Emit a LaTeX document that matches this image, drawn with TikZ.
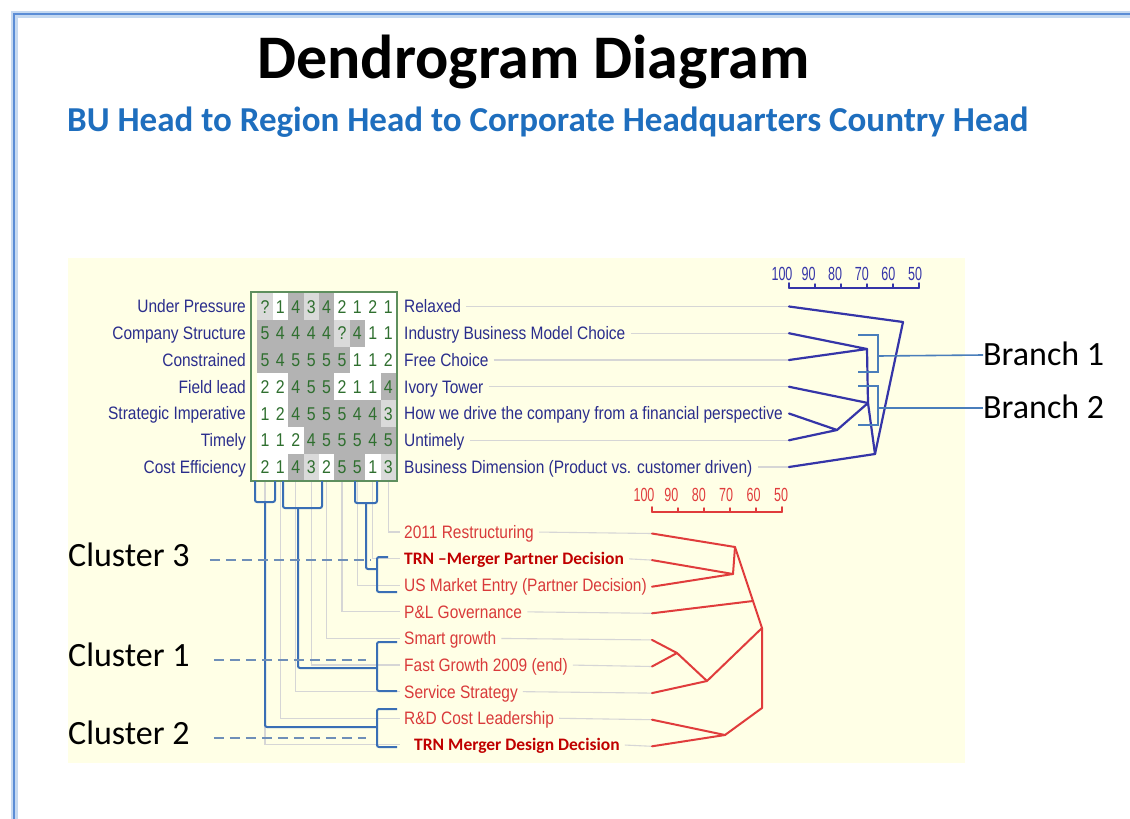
\documentclass[tikz,border=0pt]{standalone}
\usepackage{fontspec}
\setmainfont{Carlito}
\newfontfamily\narrowsans[FakeStretch=0.86]{Liberation Sans}
\newfontfamily\scalesans[FakeStretch=0.66]{Liberation Sans}
\definecolor{labblue}{HTML}{2A2D8C}
\definecolor{digitgreen}{HTML}{2F6F2F}
\definecolor{shade0}{HTML}{FFFFFF}
\definecolor{shade1}{HTML}{DADADA}
\definecolor{shade2}{HTML}{B3B3B3}
\definecolor{gridgreen}{HTML}{5E8F5E}
\definecolor{dendblue}{HTML}{3535A8}
\definecolor{branchblue}{HTML}{4A7EBB}
\definecolor{clusblue}{HTML}{3A6FB5}
\definecolor{dashblue}{HTML}{6F8FB8}
\definecolor{dendred}{HTML}{E03C3C}
\definecolor{redtext}{HTML}{D93A3A}
\definecolor{darkred}{HTML}{C00000}
\definecolor{lgray}{HTML}{D6D6D6}
\definecolor{panel}{HTML}{FFFFE6}
\definecolor{subblue}{HTML}{1E6EBE}
\definecolor{framelight}{HTML}{C5D9F1}
\definecolor{framedark}{HTML}{5B8DD6}
\begin{document}
\begin{tikzpicture}[x=1pt,y=-1pt,
  rowlab/.style={anchor=east,inner sep=0pt,font=\narrowsans\fontsize{18}{20}\selectfont,text=labblue,text height=12.9pt,text depth=0pt},
  rightlab/.style={rowlab,anchor=west},
  redlab/.style={anchor=west,inner sep=0pt,font=\narrowsans\fontsize{18}{20}\selectfont,text=redtext,text height=12.9pt,text depth=0pt},
  redbold/.style={anchor=west,inner sep=0pt,font=\bfseries\fontsize{17.5}{20}\selectfont,text=darkred,text height=11.3pt,text depth=0pt},
  digit/.style={inner sep=0pt,font=\narrowsans\fontsize{18.5}{20}\selectfont,text=digitgreen,text height=13.2pt,text depth=0pt},
  scalelab/.style={inner sep=0pt,font=\scalesans\fontsize{19}{20}\selectfont,text height=13.6pt,text depth=0pt},
  bigcal/.style={anchor=west,inner sep=0pt,font=\fontsize{34}{40}\selectfont,text=black,text height=21.9pt,text depth=0pt},
  dendb/.style={draw=dendblue,line width=2.2pt,line join=round,line cap=round},
  dendr/.style={draw=dendred,line width=2pt,line join=round,line cap=round},
  leafgray/.style={draw=lgray,line width=1.3pt},
  branch/.style={draw=branchblue,line width=1.6pt},
  clus/.style={draw=clusblue,line width=2pt,rounded corners=2pt},
  dashc/.style={draw=dashblue,line width=1.3pt,dash pattern=on 10pt off 6pt}
]
\useasboundingbox (0,0) rectangle (1130,819);
\fill[white] (0,0) rectangle (1130,819);
% slide frame
\draw[line width=7pt,draw=framelight] (14,830) -- (14,14) -- (1140,14);
\draw[line width=2.5pt,draw=framedark] (14,830) -- (14,14) -- (1140,14);
% titles
\node[anchor=base west,inner sep=0pt,font=\bfseries\fontsize{62}{70}\selectfont] (title) at (257,78) {Dendrogram Diagram};
\node[anchor=base west,inner sep=0pt,font=\bfseries\fontsize{35}{40}\selectfont,text=subblue] (subtitle) at (67,131) {BU Head to Region Head to Corporate Headquarters Country Head};
% panel
\fill[panel] (68,258) rectangle (965,763);
% bottom label anchors
\foreach \k in {1,...,9} {
  \pgfmathsetmacro\yy{532+26.6*(\k-1)}
  \coordinate (BS\k) at (400,\yy);
  \coordinate (RB\k) at (652,\yy+1.5);
}
% grey column lines
\foreach \i in {1,...,9} {
  \pgfmathsetmacro\cxx{265+15.4*(\i-1)}
  \pgfmathtruncatemacro\k{10-\i}
  \coordinate (colb\i) at (\cxx,481);
  \draw[leafgray] (colb\i) |- (BS\k);
}
% grid cells
\foreach \row [count=\j] in {{1,0,2,1,2,0,0,0,0},{2,2,2,2,2,1,2,0,0},{2,2,2,2,2,2,0,0,0},{0,0,2,2,2,0,0,0,2},{0,0,2,2,2,2,2,2,1},{0,0,0,2,2,2,2,2,2},{0,0,2,1,0,2,2,0,1}} {
  \foreach \s [count=\i] in \row {
    \pgfmathsetmacro\xa{257.3+15.4*(\i-1)}
    \pgfmathsetmacro\ya{293+26.75*(\j-1)}
    \fill[shade\s] (\xa,\ya) rectangle ++(15.45,26.8);
  }
}
\node[draw=gridgreen,line width=1.5pt,minimum width=146pt,minimum height=189pt,inner sep=0pt] (grid) at (324,386.5) {};
\foreach \row [count=\j] in {{?,1,4,3,4,2,1,2,1},{5,4,4,4,4,?,4,1,1},{5,4,5,5,5,5,1,1,2},{2,2,4,5,5,2,1,1,4},{1,2,4,5,5,5,4,4,3},{1,1,2,4,5,5,5,4,5},{2,1,4,3,2,5,5,1,3}} {
  \foreach \d [count=\i] in \row {
    \node[digit] (d-\j-\i) at ({265+15.4*(\i-1)},{306.5+26.75*(\j-1)}) {\d};
  }
}
% row labels
\foreach \t [count=\j] in {Under Pressure,Company Structure,Constrained,Field lead,Strategic Imperative,Timely,Cost Efficiency} {
  \node[rowlab] (L\j) at (246,{306.5+26.75*(\j-1)}) {\t};
}
\foreach \t [count=\j] in {Relaxed,Industry Business Model Choice,Free Choice,Ivory Tower,How we drive the company from a financial perspective,Untimely,Business Dimension (Product vs. customer driven)} {
  \node[rightlab] (R\j) at (404,{306.5+26.75*(\j-1)}) {\t};
  \coordinate (RL\j) at (789,{306.5+26.75*(\j-1)});
  \draw[leafgray,line width=1.1pt,shorten <=5pt] (R\j.east) -- (RL\j);
}
% bottom labels
\node[redlab] (BL1) at (404,532) {2011 Restructuring};
\node[redbold] (BL2) at (404,558.6) {TRN –Merger Partner Decision};
\node[redlab] (BL3) at (404,585.2) {US Market Entry (Partner Decision)};
\node[redlab] (BL4) at (404,611.8) {P\&L Governance};
\node[redlab] (BL5) at (404,638.4) {Smart growth};
\node[redlab] (BL6) at (404,665) {Fast Growth 2009 (end)};
\node[redlab] (BL7) at (404,691.6) {Service Strategy};
\node[redlab] (BL8) at (404,718.2) {R\&D Cost Leadership};
\node[redbold] (BL9) at (414,744.8) {TRN Merger Design Decision};
\foreach \k in {1,...,9} {
  \draw[leafgray,line width=1.1pt,shorten <=5pt] (BL\k.east) -- (RB\k);
}
% right scale
\draw[dendb,line width=1.6pt] (789,283) -- (789,288) -- (919,288) -- (919,283);
\foreach \v [count=\n] in {100,90,80,70,60,50} {
  \pgfmathsetmacro\tx{789+26*(\n-1)}
  \draw[dendb,line width=1.4pt] (\tx,288) -- (\tx,284);
  \node[scalelab,text=dendblue] (bs\n) at ({782+26.6*(\n-1)},274) {\v};
}
% right dendrogram
\coordinate (b1) at (903,322);
\coordinate (b23) at (867,349);
\coordinate (b456) at (868,403);
\coordinate (b56) at (837,430);
\coordinate (broot) at (875,454);
\draw[dendb] (RL1) -- (b1) -- (broot);
\draw[dendb] (RL2) -- (b23) -- (RL3);
\draw[dendb] (b23) -- (b456) -- (broot);
\draw[dendb] (RL4) -- (b456);
\draw[dendb] (RL5) -- (b56) -- (RL6);
\draw[dendb] (b56) -- (b456);
\draw[dendb] (RL7) -- (broot);
% branches
\node[bigcal] (Br1) at (983,355) {Branch 1};
\node[bigcal] (Br2) at (983,408) {Branch 2};
\draw[branch] (858,335) -- (878,335) -- (878,372) -- (858,372);
\draw[branch] (878,356) -- (Br1.west);
\draw[branch] (858,386) -- (878,386) -- (878,425) -- (858,425);
\draw[branch] (878,408) -- (Br2.west);
% bottom scale
\draw[dendr,line width=1.6pt] (652,507) -- (652,512) -- (782,512) -- (782,507);
\foreach \v [count=\n] in {100,90,80,70,60,50} {
  \pgfmathsetmacro\tx{652+26*(\n-1)}
  \draw[dendr,line width=1.4pt] (\tx,512) -- (\tx,508);
  \node[scalelab,text=dendred] (rs\n) at ({644+27.4*(\n-1)},495) {\v};
}
% bottom dendrogram
\coordinate (ra) at (735,547);
\coordinate (rb) at (733,574);
\coordinate (rc) at (753,601);
\coordinate (rd) at (762,628);
\coordinate (re) at (677,653);
\coordinate (rf) at (707,681);
\coordinate (rg) at (725,735);
\coordinate (rh) at (762,708);
\draw[dendr] (RB1) -- (ra) -- (rd) -- (rh) -- (rg);
\draw[dendr] (RB2) -- (rb) -- (RB3);
\draw[dendr] (rb) -- (ra);
\draw[dendr] (RB4) -- (rc);
\draw[dendr] (RB5) -- (re) -- (RB6);
\draw[dendr] (re) -- (rf) -- (rd);
\draw[dendr] (RB7) -- (rf);
\draw[dendr] (RB8) -- (rg) -- (RB9);
% cluster brackets
\draw[clus] (255,481) -- (255,502) -- (275,502) -- (275,481);
\draw[clus] (265,502) |- (377,727);
\draw[clus] (397,709) -- (377,709) -- (377,747) -- (397,747);
\draw[clus] (283,481) -- (283,508) -- (322,508) -- (322,481);
\draw[clus] (298,508) |- (377,668);
\draw[clus] (397,642) -- (377,642) -- (377,691) -- (397,691);
\draw[clus] (355,481) -- (355,503) -- (377,503) -- (377,481);
\draw[clus] (366,503) |- (377,569);
\draw[clus] (388,557) -- (377,557) -- (377,592) -- (397,592);
% cluster labels
\node[bigcal] (C3) at (68,556) {Cluster 3};
\node[bigcal] (C1) at (68,656) {Cluster 1};
\node[bigcal] (C2) at (68,734) {Cluster 2};
\draw[dashc] (C3.east) ++(20,4) -- (370,560);
\draw[dashc] (C1.east) ++(24,4) -- (366,660);
\draw[dashc] (C2.east) ++(24,4) -- (366,738);
\end{tikzpicture}
\end{document}
